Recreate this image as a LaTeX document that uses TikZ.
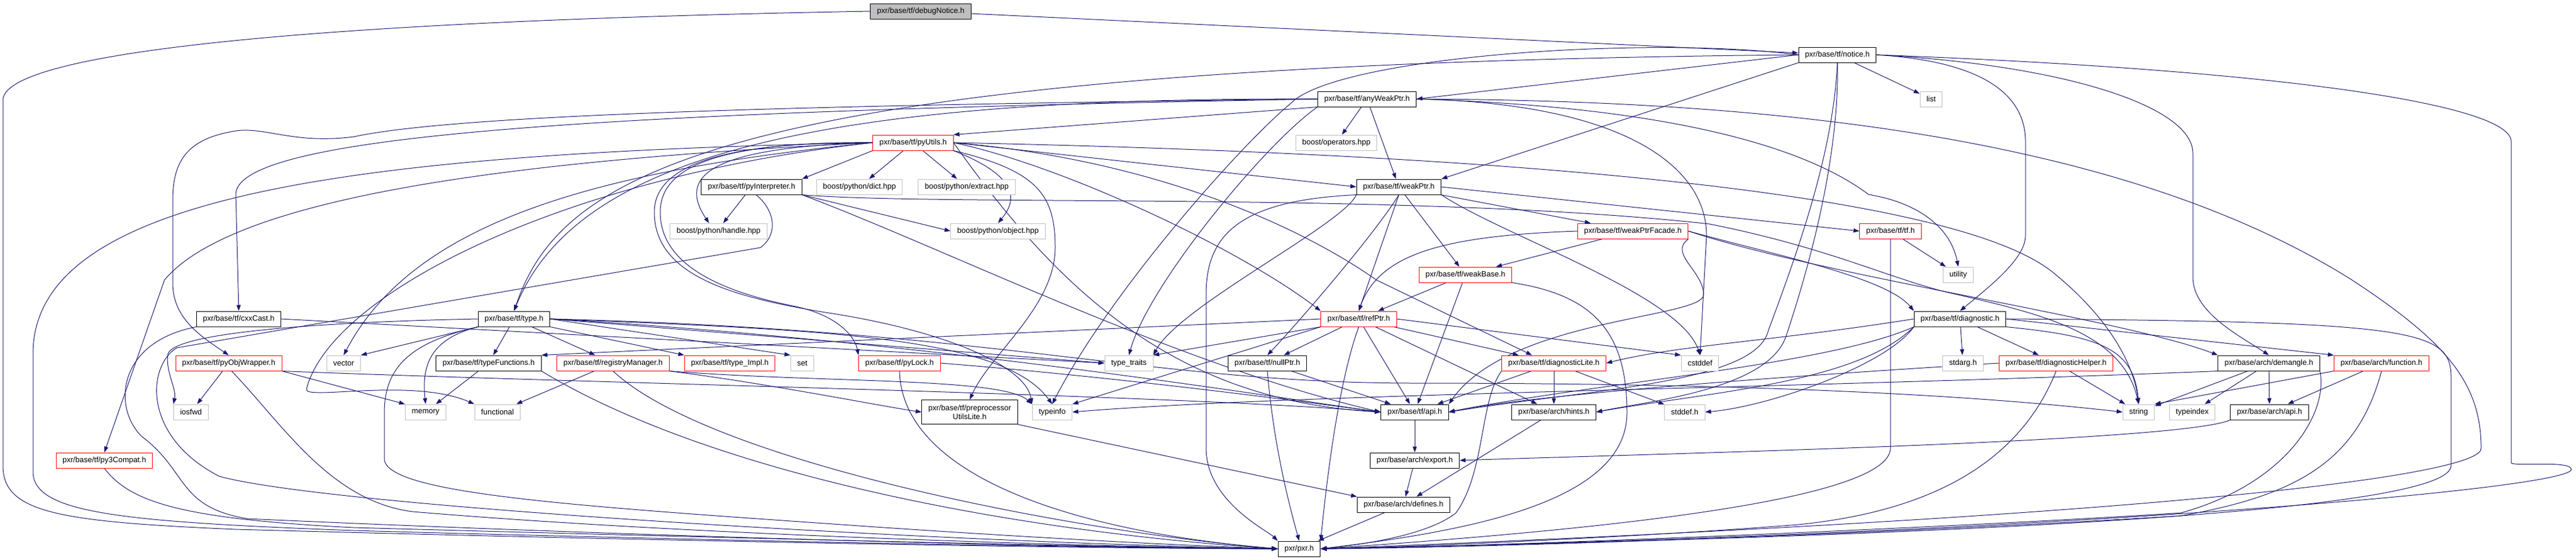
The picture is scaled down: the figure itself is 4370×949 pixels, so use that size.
\documentclass[tikz,border=0pt]{standalone}
\usepackage{fontspec}
\setmainfont{Liberation Sans}
\usetikzlibrary{arrows.meta,backgrounds}
\definecolor{edgeblue}{RGB}{25,25,112}
\definecolor{grey75}{RGB}{191,191,191}

\begin{document}
\begin{tikzpicture}[x=0.5pt,y=-0.5pt]
    \tikzstyle{hdr}=[rectangle, draw=black, fill=white, line width=0.5pt, inner xsep=5.5pt, inner ysep=0pt, minimum height=13pt, font=\fontsize{6.5}{7.5}\selectfont]
    \tikzstyle{hdrcut}=[hdr, draw=red]
    \tikzstyle{hdrsys}=[hdr, draw=grey75]
    \tikzstyle{hdrtop}=[hdr, fill=grey75]
    \tikzstyle{dep}=[draw=edgeblue, line width=0.5pt, -{Triangle[length=5pt,width=3.5pt]}]

    \useasboundingbox (0,0) rectangle (4370,949);

    \node[hdrtop]  (dn)         at (1562,19)  {pxr/base/tf/debugNotice.h};
    \node[hdr]     (notice)     at (3117,93)  {pxr/base/tf/notice.h};
    \node[hdr]     (awp)        at (2319,168) {pxr/base/tf/anyWeakPtr.h};
    \node[hdrsys]  (list)       at (3276,168) {list};
    \node[hdrcut]  (pyutils)    at (1549,242) {pxr/base/tf/pyUtils.h};
    \node[hdrsys]  (ops)        at (2267,242) {boost/operators.hpp};
    \node[hdr]     (pyinterp)   at (1275,317) {pxr/base/tf/pyInterpreter.h};
    \node[hdrsys]  (dict)       at (1458,317) {boost/python/dict.hpp};
    \node[hdrsys]  (extract)    at (1640,317) {boost/python/extract.hpp};
    \node[hdr]     (weakptr)    at (2373,317) {pxr/base/tf/weakPtr.h};
    \node[hdrsys]  (handle)     at (1219,392) {boost/python/handle.hpp};
    \node[hdrsys]  (object)     at (1693,392) {boost/python/object.hpp};
    \node[hdrcut]  (facade)     at (2770,392) {pxr/base/tf/weakPtrFacade.h};
    \node[hdrcut]  (tfh)        at (3207,392) {pxr/base/tf/tf.h};
    \node[hdrcut]  (weakbase)   at (2486,466) {pxr/base/tf/weakBase.h};
    \node[hdrsys]  (utility)    at (3322,466) {utility};
    \node[hdr]     (cxxcast)    at (405,541)  {pxr/base/tf/cxxCast.h};
    \node[hdr]     (type)       at (872,541)  {pxr/base/tf/type.h};
    \node[hdrcut]  (refptr)     at (2305,541) {pxr/base/tf/refPtr.h};
    \node[hdr]     (diag)       at (3325,541) {pxr/base/tf/diagnostic.h};
    \node[hdrcut]  (pyobj)      at (388,616)  {pxr/base/tf/pyObjWrapper.h};
    \node[hdrsys]  (vector)     at (583,616)  {vector};
    \node[hdr]     (typefn)     at (829,616)  {pxr/base/tf/typeFunctions.h};
    \node[hdrcut]  (regmgr)     at (1040,616) {pxr/base/tf/registryManager.h};
    \node[hdrcut]  (typeimpl)   at (1238,616) {pxr/base/tf/type\_Impl.h};
    \node[hdrsys]  (set)        at (1361,616) {set};
    \node[hdrcut]  (pylock)     at (1526,616) {pxr/base/tf/pyLock.h};
    \node[hdrsys]  (traits)     at (1915,616) {type\_traits};
    \node[hdr]     (nullptr)    at (2150,616) {pxr/base/tf/nullPtr.h};
    \node[hdrcut]  (diaglite)   at (2636,616) {pxr/base/tf/diagnosticLite.h};
    \node[hdrsys]  (cstddef)    at (2884,616) {cstddef};
    \node[hdrsys]  (stdarg)     at (3330,616) {stdarg.h};
    \node[hdrcut]  (diaghelper) at (3488,616) {pxr/base/tf/diagnosticHelper.h};
    \node[hdr]     (demangle)   at (3849,616) {pxr/base/arch/demangle.h};
    \node[hdrcut]  (function)   at (4040,616) {pxr/base/arch/function.h};
    \node[hdrsys]  (iosfwd)     at (324,699)  {iosfwd};
    \node[hdrsys]  (memory)     at (722,699)  {memory};
    \node[hdrsys]  (functional) at (844,699)  {functional};
    \node[hdr, align=center, minimum height=20.5pt] (pputils) at (1645,699) {pxr/base/tf/preprocessor\\UtilsLite.h};
    \node[hdrsys]  (typeinfo)   at (1785,699) {typeinfo};
    \node[hdr]     (api)        at (2400,699) {pxr/base/tf/api.h};
    \node[hdr]     (hints)      at (2636,699) {pxr/base/arch/hints.h};
    \node[hdrsys]  (stddef)     at (2858,699) {stddef.h};
    \node[hdrsys]  (string)     at (3628,699) {string};
    \node[hdrsys]  (typeindex)  at (3719,699) {typeindex};
    \node[hdr]     (archapi)    at (3850,699) {pxr/base/arch/api.h};
    \node[hdrcut]  (py3)        at (177,781)  {pxr/base/tf/py3Compat.h};
    \node[hdr]     (export)     at (2400,781) {pxr/base/arch/export.h};
    \node[hdr]     (defines)    at (2381,856) {pxr/base/arch/defines.h};
    \node[hdr]     (pxr)        at (2204,931) {pxr/pxr.h};

    \begin{scope}[on background layer]
    \draw[dep] (dn) -- (notice);
    \draw[dep] (dn.west) .. controls (300,40) and (5,110) .. (5,170) -- (5,790) .. controls (5,870) and (100,885) .. (400,898) .. controls (1200,920) and (1900,931) .. (pxr.west);

    \draw[dep] (notice.west) -- (awp.east);
    \draw[dep] (notice.west) .. controls (1200,110) and (950,300) .. (type.north);
    \draw[dep] (notice.south west) -- (weakptr.north east);
    \draw[dep] (notice) -- (list);
    \draw[dep] (notice.east) .. controls (3380,105) and (3436,170) .. (3436,240) -- (3436,400) .. controls (3436,440) and (3370,490) .. (diag.north);
    \draw[dep] (notice.east) .. controls (3500,110) and (3720,180) .. (3720,260) -- (3720,470) .. controls (3720,530) and (3800,570) .. (demangle.north);
    \draw[dep] (notice.east) .. controls (3900,120) and (4260,180) .. (4260,240) -- (4260,785) .. controls (4260,792) and (4365,780) .. (4362,797) .. controls (4350,830) and (3500,905) .. (pxr.east);
    \draw[dep] (notice.south) .. controls (3110,250) and (3060,400) .. (3000,560) .. controls (2980,650) and (2700,660) .. (api.east);
    \draw[dep] (notice.south) .. controls (3120,250) and (3080,420) .. (3030,570) .. controls (3000,660) and (2800,680) .. (hints.east);
    \draw[dep] (notice.west) .. controls (2800,60) and (2270,95) .. (2190,175) .. controls (2100,250) and (1880,500) .. (typeinfo.north);

    \draw[dep] (awp.south west) -- (pyutils.north east);
    \draw[dep] (awp) -- (ops);
    \draw[dep] (awp) -- (weakptr);
    \draw[dep] (awp.west) .. controls (1400,165) and (980,260) .. (type.north);
    \draw[dep] (awp.west) .. controls (1000,190) and (400,230) .. (400,330) -- (cxxcast.north);
    \draw[dep] (awp.west) .. controls (1200,180) and (750,200) .. (600,232) .. controls (500,245) and (450,215) .. (400,222) .. controls (320,235) and (293,270) .. (293,340) -- (293,480) .. controls (293,540) and (340,570) .. (pyobj.north);
    \draw[dep] (awp.east) .. controls (2750,175) and (2895,280) .. (2895,400) -- (cstddef.north);
    \draw[dep] (awp.south west) .. controls (2150,240) and (1950,480) .. (traits.north);
    \draw[dep] (awp.east) .. controls (2800,180) and (3050,240) .. (3170,330) .. controls (3260,345) and (3310,390) .. (utility.north);
    \draw[dep] (awp.east) .. controls (3000,170) and (3600,230) .. (3990,475) .. controls (4150,580) and (4209,650) .. (4209,760) .. controls (4215,800) and (3800,870) .. (pxr.east);

    \draw[dep] (pyutils.south west) -- (pyinterp.north east);
    \draw[dep] (pyutils) -- (dict);
    \draw[dep] (pyutils) -- (extract);
    \draw[dep] (pyutils.west) .. controls (1200,250) and (1150,300) .. (handle.140);
    \draw[dep] (pyutils.south east) .. controls (1730,300) and (1725,340) .. (object.north);
    \draw[dep] (pyutils.east) -- (weakptr.west);
    \draw[dep] (pyutils.east) .. controls (2500,260) and (3300,320) .. (3480,460) .. controls (3580,540) and (3620,620) .. (string.north);
    \draw[dep] (pyutils.east) .. controls (1800,280) and (2100,420) .. (refptr.north west);
    \draw[dep] (pyutils.east) .. controls (1950,270) and (2200,380) .. (2335,475) -- (diaglite.160);
    \draw[dep] (pyutils.south east) .. controls (1760,290) and (1790,330) .. (1790,420) .. controls (1790,520) and (1680,600) .. (pputils.north);
    \draw[dep] (pyutils.west) .. controls (1200,240) and (1120,290) .. (1120,360) .. controls (1120,460) and (1250,500) .. (1350,520) .. controls (1420,535) and (1450,570) .. (pylock.north west);
    \draw[dep] (pyutils.west) .. controls (1200,240) and (1110,290) .. (1110,360) .. controls (1110,470) and (1250,505) .. (1400,530) .. controls (1600,560) and (1740,620) .. (typeinfo.north west);
    \draw[dep] (pyutils.west) .. controls (900,270) and (400,330) .. (279,475) -- (py3.north);
    \draw[dep] (pyutils.west) .. controls (1000,290) and (700,380) .. (vector.north);
    \draw[dep] (pyutils.west) .. controls (950,300) and (560,500) .. (520,660) .. controls (515,680) and (700,640) .. (functional.north west);
    \draw[dep] (pyutils.east) .. controls (1800,500) and (2000,680) .. (api.west);
    \draw[dep] (pyutils.west) .. controls (600,260) and (56,330) .. (56,600) -- (56,800) .. controls (56,870) and (200,885) .. (600,900) .. controls (1500,925) and (2000,930) .. (pxr.west);

    \draw[dep] (pyinterp) -- (handle.60);
    \draw[dep] (pyinterp.south east) -- (object.west);
    \draw[dep] (pyinterp.south east) .. controls (1600,420) and (2000,620) .. (api.west);
    \draw[dep] (pyinterp.south east) .. controls (1600,350) and (2400,325) .. (2900,380) .. controls (3100,420) and (3200,470) .. (3300,495) .. controls (3450,530) and (3600,560) .. (string.north);
    \draw[dep] (pyinterp.300) .. controls (1318,360) and (1318,400) .. (1290,420) -- (300,590) .. controls (250,620) and (240,740) .. (372,808) .. controls (560,860) and (1600,920) .. (pxr.west);

    \draw[dep] (cxxcast.east) -- (traits.west);
    \draw[dep] (cxxcast.south west) .. controls (200,580) and (190,690) .. (240,740) .. controls (320,800) and (300,860) .. (420,880) .. controls (1200,915) and (1900,930) .. (pxr.west);

    \draw[dep] (type) -- (typefn);
    \draw[dep] (type) -- (regmgr);
    \draw[dep] (type.south east) -- (typeimpl.north west);
    \draw[dep] (type.east) -- (set.north west);
    \draw[dep] (type.south west) -- (vector.north east);
    \draw[dep] (type.south west) .. controls (730,575) and (715,620) .. (memory.north);
    \draw[dep] (type.west) .. controls (600,545) and (300,560) .. (285,600) .. controls (280,630) and (300,660) .. (iosfwd.north west);
    \draw[dep] (type.east) -- (traits.west);
    \draw[dep] (type.east) .. controls (1400,560) and (1700,570) .. (typeinfo.north);
    \draw[dep] (type.east) .. controls (1700,560) and (1950,650) .. (2400,650) .. controls (2900,650) and (3300,665) .. (string.west);
    \draw[dep] (type.east) .. controls (1600,580) and (2200,680) .. (api.west);
    \draw[dep] (type.south west) .. controls (700,580) and (652,620) .. (652,700) -- (652,780) .. controls (660,840) and (1000,860) .. (1500,895) .. controls (1800,915) and (2000,925) .. (pxr.west);

    \draw[dep] (typefn) -- (memory);
    \draw[dep] (typefn.south east) .. controls (1200,800) and (1700,900) .. (pxr.west);
    \draw[dep] (regmgr) -- (functional);
    \draw[dep] (regmgr.south) .. controls (1200,780) and (1800,900) .. (pxr.west);
    \draw[dep] (regmgr.south east) .. controls (1300,650) and (1500,690) .. (pputils.west);
    \draw[dep] (regmgr.south east) .. controls (1400,650) and (1700,640) .. (typeinfo.north west);
    \draw[dep] (pyobj) -- (iosfwd);
    \draw[dep] (pyobj.south east) -- (memory.north west);
    \draw[dep] (pyobj.south east) .. controls (1000,650) and (2000,670) .. (api.west);
    \draw[dep] (pyobj.290) .. controls (480,720) and (560,850) .. (700,868) .. controls (1200,910) and (1900,928) .. (pxr.west);
    \draw[dep] (pylock.south) .. controls (1530,800) and (1800,900) .. (pxr.west);
    \draw[dep] (pylock.east) .. controls (1900,640) and (2200,680) .. (api.west);
    \draw[dep] (py3.south) .. controls (220,850) and (300,880) .. (600,895) .. controls (1500,920) and (2000,930) .. (pxr.west);
    \draw[dep] (pputils.south east) -- (defines.north west);

    \draw[dep] (refptr.west) -- (typefn.north east);
    \draw[dep] (refptr.south west) -- (traits.north east);
    \draw[dep] (refptr) -- (nullptr);
    \draw[dep] (refptr.south west) -- (typeinfo.north east);
    \draw[dep] (refptr) -- (api);
    \draw[dep] (refptr) -- (diaglite);
    \draw[dep] (refptr.east) -- (cstddef.north west);
    \draw[dep] (refptr) -- (hints);
    \draw[dep] (refptr.south) .. controls (2270,650) and (2250,820) .. (pxr.north east);
    \draw[dep] (nullptr) -- (api);
    \draw[dep] (nullptr.south) .. controls (2160,750) and (2185,850) .. (pxr.north);

    \draw[dep] (weakptr) -- (facade);
    \draw[dep] (weakptr) -- (weakbase);
    \draw[dep] (weakptr.east) -- (tfh.west);
    \draw[dep] (weakptr.south) .. controls (2330,400) and (2200,550) .. (nullptr.north);
    \draw[dep] (weakptr.south) -- (refptr.north);
    \draw[dep] (weakptr.south west) .. controls (2280,380) and (2000,520) .. (traits.north east);
    \draw[dep] (weakptr.south east) .. controls (2550,400) and (2850,500) .. (cstddef.north);
    \draw[dep] (weakptr.south west) .. controls (2100,340) and (2046,400) .. (2046,500) -- (2046,760) .. controls (2046,850) and (2150,900) .. (pxr.north west);

    \draw[dep] (weakbase) -- (refptr);
    \draw[dep] (weakbase) -- (api);
    \draw[dep] (weakbase.south east) .. controls (2700,500) and (2760,560) .. (2760,700) .. controls (2760,850) and (2500,900) .. (pxr.east);
    \draw[dep] (facade) -- (weakbase);
    \draw[dep] (facade.west) .. controls (2450,400) and (2340,430) .. (refptr.north);
    \draw[dep] (facade.east) .. controls (3000,430) and (3200,470) .. (diag.north west);
    \draw[dep] (facade.east) .. controls (3100,470) and (3600,540) .. (demangle.north west);
    \draw[dep] (facade.south east) .. controls (2830,430) and (2890,460) .. (2890,500) .. controls (2890,540) and (2560,540) .. (api.north east);
    \draw[dep] (tfh) -- (utility);
    \draw[dep] (tfh.south) -- (3207,760) .. controls (3207,850) and (2700,900) .. (pxr.east);

    \draw[dep] (diag) -- (stdarg);
    \draw[dep] (diag) -- (diaghelper);
    \draw[dep] (diag.south east) .. controls (3560,570) and (3620,590) .. (string.north);
    \draw[dep] (diag.east) -- (function.north west);
    \draw[dep] (diag.west) .. controls (3000,580) and (2850,585) .. (diaglite.east);
    \draw[dep] (diag.south west) .. controls (3100,620) and (2700,650) .. (api.east);
    \draw[dep] (diag.south west) .. controls (3150,650) and (2900,665) .. (hints.east);
    \draw[dep] (diag.south west) .. controls (3200,620) and (3000,690) .. (stddef.east);
    \draw[dep] (diag.east) .. controls (4100,545) and (4158,560) .. (4158,640) -- (4158,790) .. controls (4158,860) and (3500,905) .. (pxr.east);

    \draw[dep] (diaglite) -- (api);
    \draw[dep] (diaglite) -- (hints);
    \draw[dep] (diaglite) -- (stddef);
    \draw[dep] (diaglite.south west) .. controls (2510,680) and (2520,800) .. (2470,870) .. controls (2420,910) and (2300,925) .. (pxr.east);
    \draw[dep] (diaghelper) -- (string);
    \draw[dep] (diaghelper.west) .. controls (3000,640) and (2600,670) .. (api.east);
    \draw[dep] (diaghelper.south) .. controls (3420,800) and (3250,870) .. (3050,890) .. controls (2800,910) and (2400,928) .. (pxr.east);

    \draw[dep] (demangle) -- (string);
    \draw[dep] (demangle) -- (typeindex);
    \draw[dep] (demangle) -- (archapi);
    \draw[dep] (demangle.south west) .. controls (3000,660) and (2200,668) .. (typeinfo.east);
    \draw[dep] (demangle.south east) .. controls (3950,700) and (3880,820) .. (3700,870) .. controls (3400,890) and (2600,926) .. (pxr.east);
    \draw[dep] (function) -- (archapi);
    \draw[dep] (function.south west) -- (string.north east);
    \draw[dep] (function.south) .. controls (4000,780) and (3900,840) .. (3700,875) .. controls (3300,900) and (2600,928) .. (pxr.east);

    \draw[dep] (archapi.south west) .. controls (3700,750) and (2800,770) .. (export.east);
    \draw[dep] (api) -- (export);
    \draw[dep] (export) -- (defines);
    \draw[dep] (hints) -- (defines);
    \draw[dep] (defines) -- (pxr);
    \end{scope}
\end{tikzpicture}
\end{document}
